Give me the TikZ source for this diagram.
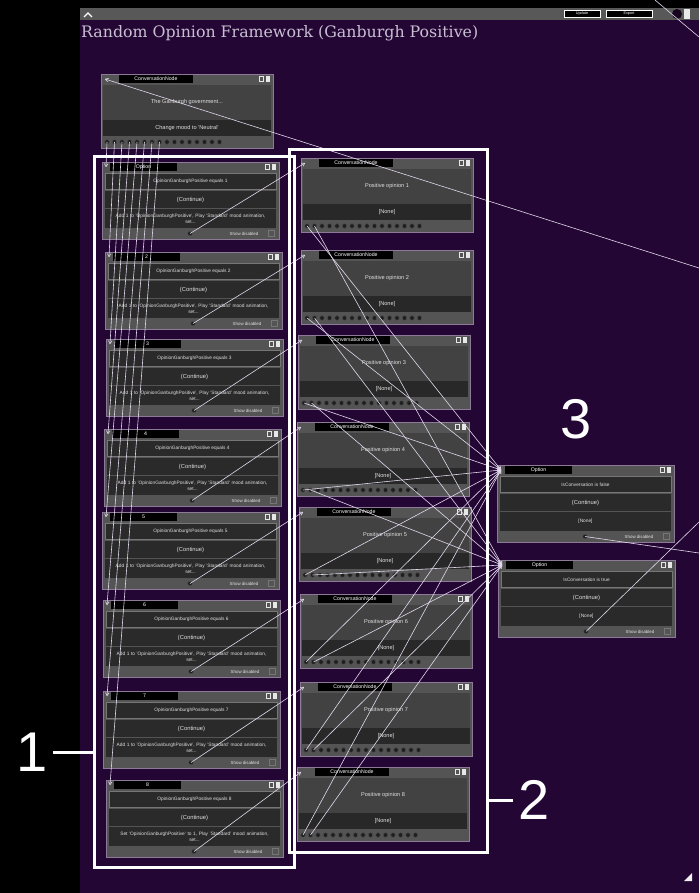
\documentclass[tikz,border=0pt]{standalone}
\usepackage{fontspec}
\setmainfont{Liberation Sans}
\newfontfamily\titlefont{DejaVu Serif}
\usetikzlibrary{arrows.meta}

\definecolor{winbg}{RGB}{36,6,52}
\definecolor{topbar}{RGB}{88,88,88}
\definecolor{titlegray}{RGB}{200,192,210}
\definecolor{nodeedge}{RGB}{140,122,152}
\definecolor{headgray}{RGB}{84,84,84}
\definecolor{bodygray}{RGB}{66,66,66}
\definecolor{bandgray}{RGB}{40,40,40}
\definecolor{rowgray}{RGB}{42,42,42}
\definecolor{rowedge}{RGB}{118,118,118}
\definecolor{wirecol}{RGB}{226,216,236}
\definecolor{nodetext}{RGB}{225,225,225}
\definecolor{dotgray}{RGB}{30,30,30}

\tikzset{
  nodeframe/.style={draw=nodeedge, fill=headgray, line width=0.8pt, anchor=north west, inner sep=0pt},
  tagbox/.style={fill=black, text=white, inner sep=0pt, minimum height=8pt, font=\fontsize{5.2}{6}\selectfont},
  rowbox/.style={fill=rowgray, text=nodetext, inner sep=1pt, minimum width=171pt, align=center, font=\fontsize{4.8}{5.4}\selectfont},
  celltext/.style={text=nodetext, inner sep=0pt, font=\fontsize{5.6}{6}\selectfont},
  hint/.style={text=nodetext, inner sep=0pt, font=\fontsize{4.4}{5}\selectfont},
  checkbox/.style={draw=rowedge, fill=headgray, line width=0.6pt},
  portdot/.style={draw=black!70, fill=dotgray, line width=0.5pt},
  iconline/.style={draw=nodetext!80, line width=0.5pt},
  wire/.style={draw=wirecol, line width=0.6pt, -{To[length=3.5pt,width=4pt]}},
  plainwire/.style={draw=wirecol, line width=0.6pt},
  groupbox/.style={draw=white, line width=3pt, anchor=north west, inner sep=0pt},
  bignum/.style={text=white, inner sep=0pt, font=\fontsize{56}{60}\selectfont},
  callout/.style={draw=white, line width=3pt},
  btn/.style={draw=white!80, fill=black, text=white, line width=0.5pt, inner sep=0pt, minimum height=7pt, font=\fontsize{3.8}{4}\selectfont},
  titletext/.style={text=titlegray, anchor=west, inner sep=0pt, font=\titlefont\fontsize{15.8}{18}\selectfont}
}

% small icons at the right of a header
\newcommand\headicons[2]{%
  \draw[iconline] ({#1-14},{#2+2.5}) rectangle ++(4,5);
  \fill[nodetext!80] ({#1-7},{#2+2}) rectangle ++(4,6);
}

% option node: name, x, y, title, condition, action
\newcommand\optionnode[6]{%
  \node[nodeframe, minimum width=177pt, minimum height=77pt] (#1) at (#2,#3) {};
  \node[tagbox, minimum width=67pt] (#1-tag) at ({#2+41.5},{#3+5}) {#4};
  \node[rowbox, draw=rowedge, line width=0.6pt, minimum height=16pt] (#1-cond) at ({#2+88.5},{#3+19.5}) {#5};
  \node[rowbox, minimum height=17pt, font=\fontsize{5.8}{6}\selectfont] (#1-cont) at ({#2+88.5},{#3+37.5}) {(Continue)};
  \node[rowbox, minimum height=19pt, inner sep=0.5pt, text width=170pt, font=\fontsize{4.8}{5.6}\selectfont] (#1-act) at ({#2+88.5},{#3+56.5}) {#6};
  \node[hint] (#1-hint) at ({#2+142},{#3+71.5}) {Show disabled};
  \draw[checkbox] ({#2+166},{#3+68.5}) rectangle ++(6,6);
  \coordinate (#1-in) at ({#2+4},{#3+5});
  \coordinate (#1-out) at ({#2+88},{#3+71.5});
  \draw[portdot] (#1-out) circle (2.3pt);
  \headicons{#2+177}{#3}
}

% conversation node: name, x, y, title, body, band
\newcommand\convnode[6]{%
  \node[nodeframe, minimum width=172pt, minimum height=74pt] (#1) at (#2,#3) {};
  \fill[bodygray] ({#2+2},{#3+11}) rectangle ({#2+170},{#3+46});
  \fill[bandgray] ({#2+2},{#3+46}) rectangle ({#2+170},{#3+62});
  \node[tagbox, minimum width=74pt] (#1-tag) at ({#2+55},{#3+5}) {#4};
  \node[celltext] (#1-body) at ({#2+86},{#3+28}) {#5};
  \node[celltext] (#1-band) at ({#2+86},{#3+54}) {#6};
  \foreach \k in {1,...,16} {
    \coordinate (#1-p\k) at ({#2+6+7.5*(\k-1)},{#3+68});
    \draw[portdot] (#1-p\k) circle (2.3pt);
  }
  \coordinate (#1-in) at ({#2+4},{#3+5});
  \headicons{#2+172}{#3}
}

\begin{document}
\begin{tikzpicture}[x=1pt, y=-1pt]
  \useasboundingbox (0,0) rectangle (699,893);
  \fill[black] (0,0) rectangle (699,893);

  % window
  \fill[winbg] (80,8) rectangle (699,893);
  \fill[topbar] (80,8) rectangle (699,20);
  \draw[white!80, line width=1.2pt] (84,17) -- (88,13) -- (92,17);
  \node[btn, minimum width=36pt] (update) at (582,14) {Update};
  \node[btn, minimum width=46pt] (export) at (629,14) {Export};
  \fill[winbg!60!black] (677,14) circle (5);
  \fill[nodetext!70] (684,9) rectangle (690,19);
  \node[titletext] (title) at (81,33) {Random Opinion Framework (Ganburgh Positive)};
  \fill[nodetext!50] (692,873) -- (692,881) -- (684,881) -- cycle;

  % top node
  \convnode{t}{101}{74}{ConversationNode}{The Ganburgh government...}{Change mood to 'Neutral'}

  % option column
  \foreach \n/\x/\y/\ttl in {1/102/162/Option, 2/105/252/2, 3/106/339/3, 4/104/429/4,
                            5/102/512/5, 6/103/600/6, 7/103/691/7}
    \optionnode{o\n}{\x}{\y}{\ttl}{OpinionGanburghPositive equals \n}%
      {Add 1 to 'OpinionGanburghPositive', Play 'Standard' mood animation,\\ set...};
  \optionnode{o8}{106}{780}{8}{OpinionGanburghPositive equals 8}%
    {Set 'OpinionGanburghPositive' to 1, Play 'Standard' mood animation,\\ set...}

  % conversation column
  \foreach \n/\x/\y in {1/301/158, 2/301/250, 3/298/335, 4/297/422,
                        5/299/507, 6/300/594, 7/300/682, 8/297/767}
    \convnode{c\n}{\x}{\y}{ConversationNode}{Positive opinion \n}{[None]};

  % right options
  \optionnode{ra}{497}{465}{Option}{IsConversation is false}{[None]}
  \optionnode{rb}{498}{560}{Option}{IsConversation is true}{[None]}

  % connectors
  \foreach \i in {1,...,8} {
    \draw[wire] (t-p\i) -- (o\i-in);
    \draw[wire] (o\i-out) -- (c\i-in);
    \draw[wire] (c\i-p1) -- (ra-in);
    \draw[wire] (c\i-p2) -- (rb-in);
  }
  \coordinate (edgeA) at (699,268);
  \coordinate (edgeB) at (655,0);
  \coordinate (edgeC) at (699,37);
  \coordinate (edgeD) at (699,553);
  \coordinate (edgeE) at (699,522);
  \draw[wire] (edgeA) -- (t-in);
  \draw[plainwire] (edgeB) -- (edgeC);
  \draw[plainwire] (ra-out) -- (edgeD);
  \draw[plainwire] (rb-out) -- (edgeE);

  % highlight groups
  \node[groupbox, minimum width=200pt, minimum height=711pt] (grp1) at (93,155) {};
  \node[groupbox, minimum width=198pt, minimum height=703pt] (grp2) at (288,148) {};
  \node[bignum] (lbl1) at (32,752) {1};
  \node[bignum] (lbl2) at (534,800) {2};
  \node[bignum] (lbl3) at (576,419) {3};
  \draw[callout] ([xshift=5pt]lbl1.east) -- (lbl1.east -| grp1.west);
  \draw[callout] ([xshift=-5pt]lbl2.west) -- (lbl2.west -| grp2.east);
\end{tikzpicture}
\end{document}
